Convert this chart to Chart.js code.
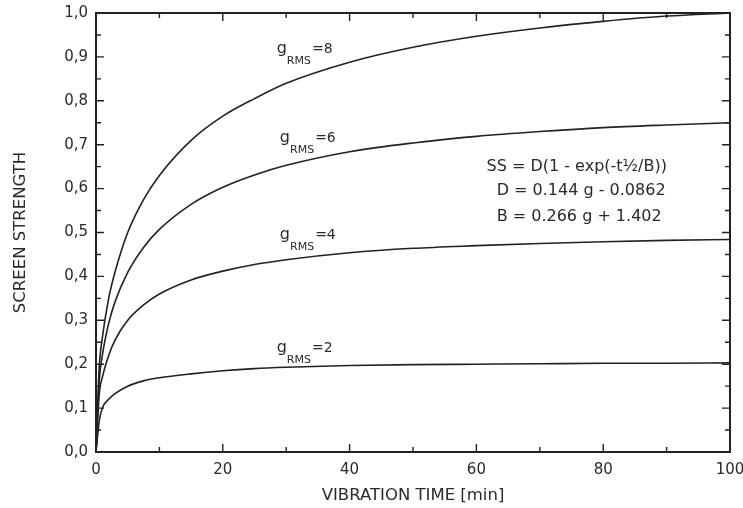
<!DOCTYPE html>
<html>
<head>
<meta charset="utf-8">
<script src="https://cdn.jsdelivr.net/npm/chart.js@4/dist/chart.umd.min.js"></script>
<style>
  html, body { margin: 0; padding: 0; background: #fff; }
</style>
</head>
<body>
<canvas id="chart" width="743" height="508"></canvas>
<script>
// vibration time in minutes
const times = [0, 0.5, 1, 2, 3, 5, 7.5, 10, 15, 20, 25, 30, 40, 50, 60, 70, 80, 90, 100];
// screen strength, one array per g level
const ssG8 = [0, 0.19, 0.26, 0.35, 0.41, 0.50, 0.575, 0.63, 0.71, 0.765, 0.805, 0.84, 0.888, 0.922, 0.947, 0.966, 0.981, 0.993, 1.0];
const ssG6 = [0, 0.16, 0.22, 0.293, 0.342, 0.409, 0.466, 0.507, 0.564, 0.603, 0.631, 0.653, 0.684, 0.704, 0.719, 0.73, 0.739, 0.745, 0.75];
const ssG4 = [0, 0.13, 0.17, 0.22, 0.255, 0.30, 0.335, 0.36, 0.392, 0.412, 0.427, 0.438, 0.454, 0.464, 0.47, 0.475, 0.479, 0.482, 0.484];
const ssG2 = [0, 0.07, 0.10, 0.12, 0.133, 0.15, 0.162, 0.169, 0.178, 0.185, 0.19, 0.193, 0.197, 0.199, 0.2, 0.201, 0.202, 0.202, 0.203];
const gLevels = ['8', '6', '4', '2'];
// where each curve label sits (time, strength at the baseline of the "g")
const labelAt = [[28.5, 0.91], [29, 0.707], [29, 0.485], [28.5, 0.228]];
const equation = ['SS = D(1 - exp(-t\u00BD/B))', 'D = 0.144 g - 0.0862', 'B = 0.266 g + 1.402'];

const ink = '#222';
const textInk = '#2a2a2a';
const family = '"DejaVu Sans", Arial, sans-serif';

const toPoints = (vals) => times.map((t, i) => ({ x: t, y: vals[i] }));

// frame with inward ticks on all four sides
const frameTicks = {
    id: 'frameTicks',
    afterDatasetsDraw(chart) {
        const { ctx, chartArea: a, scales: { x, y } } = chart;
        ctx.save();
        ctx.strokeStyle = ink;
        ctx.lineWidth = 2;
        ctx.strokeRect(a.left, a.top, a.right - a.left, a.bottom - a.top);
        ctx.lineWidth = 1.4;
        ctx.beginPath();
        for (let v = 10; v < 100; v += 10) {
            const px = x.getPixelForValue(v);
            const len = v % 20 === 0 ? 8 : 5;
            ctx.moveTo(px, a.bottom); ctx.lineTo(px, a.bottom - len);
            ctx.moveTo(px, a.top); ctx.lineTo(px, a.top + len);
        }
        for (let i = 1; i < 20; i++) {
            const py = y.getPixelForValue(i * 0.05);
            const len = i % 2 === 0 ? 8 : 5;
            ctx.moveTo(a.left, py); ctx.lineTo(a.left + len, py);
            ctx.moveTo(a.right, py); ctx.lineTo(a.right - len, py);
        }
        ctx.stroke();
        ctx.restore();
    }
};

// g_RMS labels and the fit equation
const annotations = {
    id: 'annotations',
    afterDatasetsDraw(chart) {
        const { ctx, scales: { x, y } } = chart;
        ctx.save();
        ctx.fillStyle = textInk;
        ctx.textBaseline = 'alphabetic';
        ctx.textAlign = 'left';
        gLevels.forEach((g, i) => {
            let px = x.getPixelForValue(labelAt[i][0]);
            const py = y.getPixelForValue(labelAt[i][1]);
            ctx.font = '16px ' + family;
            ctx.fillText('g', px, py);
            px += ctx.measureText('g').width;
            ctx.font = '11px ' + family;
            ctx.fillText('RMS', px, py + 11);
            px += ctx.measureText('RMS').width + 1;
            ctx.font = '14px ' + family;
            ctx.fillText('=' + g, px, py);
        });
        ctx.font = '16px ' + family;
        const ex = x.getPixelForValue(61.6);
        const ex2 = x.getPixelForValue(63.2);
        ctx.fillText(equation[0], ex, y.getPixelForValue(0.64));
        ctx.fillText(equation[1], ex2, y.getPixelForValue(0.585));
        ctx.fillText(equation[2], ex2, y.getPixelForValue(0.527));
        ctx.restore();
    }
};

const lineStyle = {
    borderColor: ink,
    borderWidth: 1.6,
    pointRadius: 0,
    fill: false,
    cubicInterpolationMode: 'monotone'
};

new Chart(document.getElementById('chart').getContext('2d'), {
    type: 'line',
    data: {
        datasets: [
            { label: 'gRMS=8', data: toPoints(ssG8), ...lineStyle },
            { label: 'gRMS=6', data: toPoints(ssG6), ...lineStyle },
            { label: 'gRMS=4', data: toPoints(ssG4), ...lineStyle },
            { label: 'gRMS=2', data: toPoints(ssG2), ...lineStyle },
        ],
    },
    options: {
        responsive: false,
        animation: false,
        layout: { padding: 0 },
        plugins: {
            legend: { display: false },
            tooltip: { enabled: false },
        },
        scales: {
            x: {
                type: 'linear',
                min: 0,
                max: 100,
                grid: { display: false, drawTicks: false },
                border: { display: false },
                ticks: {
                    stepSize: 20,
                    padding: 9,
                    color: textInk,
                    font: { family: family, size: 15 },
                },
                title: {
                    display: true,
                    text: 'VIBRATION TIME [min]',
                    color: textInk,
                    font: { family: family, size: 16.5 },
                    padding: { top: 4, bottom: 2 },
                },
                afterFit: (scale) => {
                    scale.height = 56;
                    scale.paddingLeft = 0;
                    scale.paddingRight = 13;
                },
            },
            y: {
                min: 0,
                max: 1,
                grid: { display: false, drawTicks: false },
                border: { display: false },
                ticks: {
                    stepSize: 0.1,
                    padding: 8,
                    color: textInk,
                    font: { family: family, size: 15 },
                    callback: (v) => v.toFixed(1).replace('.', ','),
                },
                title: {
                    display: true,
                    text: 'SCREEN STRENGTH',
                    color: textInk,
                    font: { family: family, size: 16.5 },
                    padding: { top: 11, bottom: 4 },
                },
                afterFit: (scale) => {
                    scale.width = 96;
                    scale.paddingTop = 13;
                    scale.paddingBottom = 0;
                },
            },
        },
    },
    plugins: [frameTicks, annotations],
});
</script>
</body>
</html>
